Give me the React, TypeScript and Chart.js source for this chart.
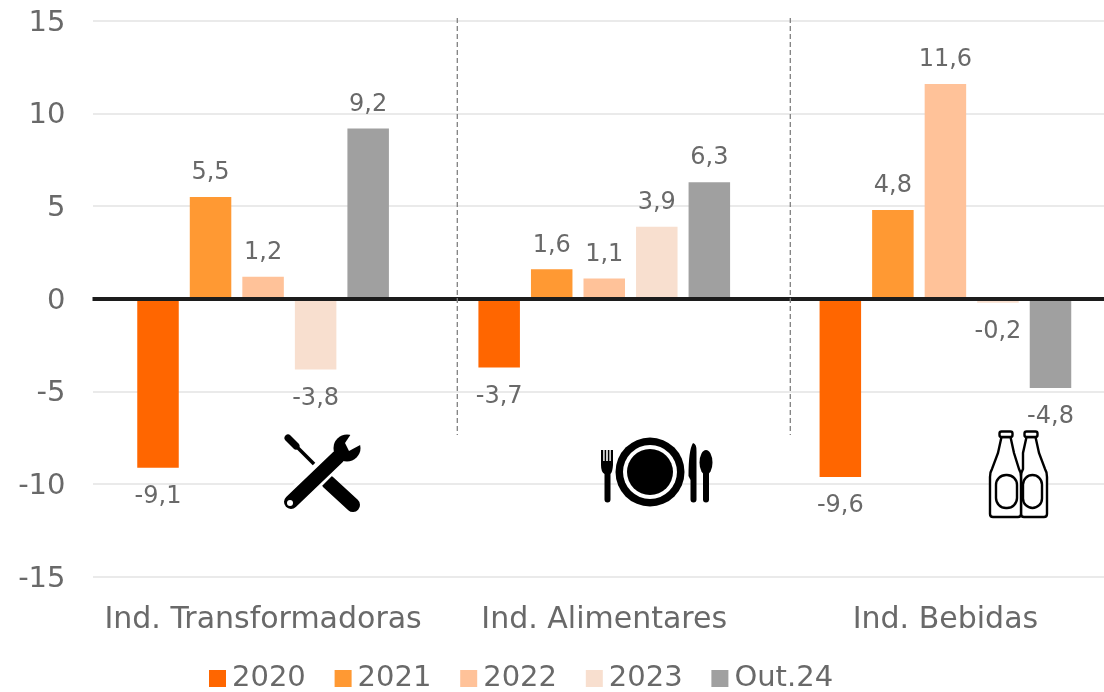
import React, { useEffect, useRef } from "react";
import { Chart, registerables } from "chart.js";

Chart.register(...registerables);

const categories = ["Ind. Transformadoras", "Ind. Alimentares", "Ind. Bebidas"];
const seriesLabels = ["2020", "2021", "2022", "2023", "Out.24"];
const values2020 = [-9.1, -3.7, -9.6];
const values2021 = [5.5, 1.6, 4.8];
const values2022 = [1.2, 1.1, 11.6];
const values2023 = [-3.8, 3.9, -0.2];
const valuesOut24 = [9.2, 6.3, -4.8];
const seriesColors = ["#FF6600", "#FF9933", "#FFC299", "#F8DFCF", "#A0A0A0"];
const yTicks = [15, 10, 5, 0, -5, -10, -15];

const FONT = '"DejaVu Sans", Verdana, sans-serif';
const TEXT = "#696969";

function drawTools(c: CanvasRenderingContext2D) {
  c.save();
  c.lineCap = "round";
  c.strokeStyle = "#000";
  c.lineWidth = 7;
  c.beginPath(); c.moveTo(288, 438); c.lineTo(296, 446); c.stroke();
  c.lineWidth = 3.5;
  c.lineCap = "butt";
  c.beginPath(); c.moveTo(290, 440); c.lineTo(315, 465); c.stroke();
  c.lineCap = "round";
  c.lineWidth = 14;
  c.beginPath(); c.moveTo(328, 482); c.lineTo(353, 505); c.stroke();
  c.strokeStyle = "#fff";
  c.lineWidth = 21;
  c.lineCap = "butt";
  c.beginPath(); c.moveTo(300, 493); c.lineTo(335, 458); c.stroke();
  c.lineCap = "round";
  c.strokeStyle = "#000";
  c.lineWidth = 14;
  c.beginPath(); c.moveTo(291, 502); c.lineTo(338, 457); c.stroke();
  c.fillStyle = "#000";
  c.beginPath(); c.arc(347, 448, 13.5, 0, Math.PI * 2); c.fill();
  c.fillStyle = "#fff";
  c.beginPath();
  c.moveTo(351, 434); c.lineTo(345, 443); c.lineTo(349, 451); c.lineTo(362, 444);
  c.lineTo(365, 436); c.lineTo(356, 430); c.closePath(); c.fill();
  c.beginPath(); c.arc(290, 503, 3, 0, Math.PI * 2); c.fill();
  c.restore();
}

function drawCutlery(c: CanvasRenderingContext2D) {
  c.save();
  c.fillStyle = "#000";
  c.beginPath(); c.arc(650, 472, 34.5, 0, Math.PI * 2); c.fill();
  c.fillStyle = "#fff";
  c.beginPath(); c.arc(650, 472, 27, 0, Math.PI * 2); c.fill();
  c.fillStyle = "#000";
  c.beginPath(); c.arc(650, 472, 23, 0, Math.PI * 2); c.fill();
  // fork
  c.beginPath();
  c.moveTo(601, 450); c.lineTo(603.2, 450); c.lineTo(603.2, 461); c.lineTo(604.6, 461);
  c.lineTo(604.6, 450); c.lineTo(606.2, 450); c.lineTo(606.2, 461); c.lineTo(607.8, 461);
  c.lineTo(607.8, 450); c.lineTo(609.4, 450); c.lineTo(609.4, 461); c.lineTo(610.8, 461);
  c.lineTo(610.8, 450); c.lineTo(613, 450); c.lineTo(613, 465);
  c.quadraticCurveTo(612.5, 472, 610.5, 474); c.lineTo(610.5, 499.5);
  c.arc(607.5, 499.5, 3, 0, Math.PI); c.lineTo(604.5, 474);
  c.quadraticCurveTo(601, 472, 601, 465); c.closePath(); c.fill();
  // knife
  c.beginPath();
  c.moveTo(693, 443);
  c.quadraticCurveTo(697, 444, 696.5, 452); c.lineTo(696.5, 499.5);
  c.arc(693.5, 499.5, 3, 0, Math.PI); c.lineTo(690.5, 480);
  c.lineTo(688.5, 476); c.quadraticCurveTo(688.5, 450, 693, 443); c.closePath(); c.fill();
  // spoon
  c.beginPath(); c.ellipse(706, 462.5, 6.5, 12.5, 0, 0, Math.PI * 2); c.fill();
  c.beginPath();
  c.moveTo(703, 470); c.lineTo(709, 470); c.lineTo(709, 499.5);
  c.arc(706, 499.5, 3, 0, Math.PI); c.closePath(); c.fill();
  c.restore();
}

function bottle(c: CanvasRenderingContext2D, l: number, r: number, m: number, oL: number, oR: number) {
  c.beginPath();
  c.moveTo(m - 4.5, 437); c.lineTo(m - 8, 453);
  c.lineTo(l + 2, 469);
  c.quadraticCurveTo(l, 472, l, 477);
  c.lineTo(l, 514); c.quadraticCurveTo(l, 517, l + 3, 517);
  c.lineTo(r - 3, 517); c.quadraticCurveTo(r, 517, r, 514);
  c.lineTo(r, 477); c.quadraticCurveTo(r, 472, r - 2, 469);
  c.lineTo(m + 8, 453); c.lineTo(m + 4.5, 437);
  c.closePath(); c.fill(); c.stroke();
  c.beginPath();
  c.roundRect(m - 6.5, 431.5, 13, 5.5, 2);
  c.fill(); c.stroke();
  c.beginPath();
  c.roundRect(oL, 475, oR - oL, 33, 10);
  c.stroke();
}

function drawBottles(c: CanvasRenderingContext2D) {
  c.save();
  c.fillStyle = "#fff";
  c.strokeStyle = "#000";
  c.lineWidth = 2.4;
  bottle(c, 1021, 1047, 1031, 1023, 1042);
  bottle(c, 990, 1021, 1006, 996, 1017);
  c.restore();
}

const decorations = {
  id: "decorations",
  beforeDraw(chart: any) {
    // nudge the y tick labels down so they sit centred on their grid lines
    chart.scales.y.getLabelItems().forEach((item: any) => {
      if (!item.__moved) {
        item.options.translation[1] += 2;
        item.__moved = true;
      }
    });
  },
  afterDatasetsDraw(chart: any) {
    const { ctx: c, scales, chartArea } = chart;
    const y0 = scales.y.getPixelForValue(0);
    c.save();
    c.strokeStyle = "#1C1C1C";
    c.lineWidth = 4;
    c.beginPath(); c.moveTo(chartArea.left, y0); c.lineTo(chart.width, y0); c.stroke();
    c.strokeStyle = "#808080";
    c.lineWidth = 1.3;
    c.setLineDash([5, 3]);
    for (const x of [457.3, 790.3]) {
      c.beginPath(); c.moveTo(x, 18); c.lineTo(x, 435); c.stroke();
    }
    c.setLineDash([]);
    c.font = `24px ${FONT}`;
    c.fillStyle = TEXT;
    c.textAlign = "center";
    c.textBaseline = "middle";
    chart.data.datasets.forEach((ds: any, i: number) => {
      chart.getDatasetMeta(i).data.forEach((bar: any, j: number) => {
        const v = ds.data[j];
        const y = v >= 0 ? bar.y - 24 : bar.y + 29;
        c.fillText(v.toFixed(1).replace(".", ","), bar.x, y);
      });
    });
    c.restore();
    drawTools(c);
    drawCutlery(c);
    drawBottles(c);
    c.save();
    c.font = `29px ${FONT}`;
    c.textAlign = "left";
    c.textBaseline = "middle";
    chart.data.datasets.forEach((ds: any, i: number) => {
      const x = 209 + i * 125.6;
      c.fillStyle = ds.backgroundColor;
      c.fillRect(x, 670, 17, 17);
      c.fillStyle = TEXT;
      c.fillText(ds.label, x + 23, 678.5);
    });
    c.restore();
  },
};

export default function App() {
  const ref = useRef<HTMLCanvasElement>(null);
  useEffect(() => {
    document.body.style.margin = "0";
    document.body.style.overflow = "hidden";
    const series = [values2020, values2021, values2022, values2023, valuesOut24];
    const chart = new Chart(ref.current!, {
      type: "bar",
      data: {
        labels: categories,
        datasets: series.map((data, i) => ({
          label: seriesLabels[i],
          data,
          backgroundColor: seriesColors[i],
          categoryPercentage: 0.77,
          barPercentage: 0.79,
        })),
      },
      options: {
        animation: false,
        responsive: false,
        layout: { padding: { top: 21, left: 0, right: 0, bottom: 0 } },
        plugins: { legend: { display: false }, tooltip: { enabled: false } },
        scales: {
          x: {
            grid: { display: false },
            border: { display: false },
            ticks: { color: TEXT, font: { family: FONT, size: 30 }, padding: 17, maxRotation: 0, autoSkip: false },
            afterFit: (s: any) => { s.height = 115; s.paddingLeft = 0; s.paddingRight = 0; },
          },
          y: {
            min: -15,
            max: 15,
            afterBuildTicks: (s: any) => { s.ticks = yTicks.map((value) => ({ value })); },
            grid: { color: "#EAEAEA", lineWidth: 2, drawTicks: false },
            border: { display: false },
            ticks: { color: TEXT, font: { family: FONT, size: 29 }, padding: 27 },
            afterFit: (s: any) => { s.width = 92.5; s.paddingTop = 0; s.paddingBottom = 0; },
          },
        },
      },
      plugins: [decorations],
    } as any);
    return () => chart.destroy();
  }, []);
  return (
    <div style={{ width: 1104, height: 692, overflow: "hidden", position: "relative" }}>
      <canvas ref={ref} width={1116} height={692} style={{ display: "block" }} />
    </div>
  );
}
